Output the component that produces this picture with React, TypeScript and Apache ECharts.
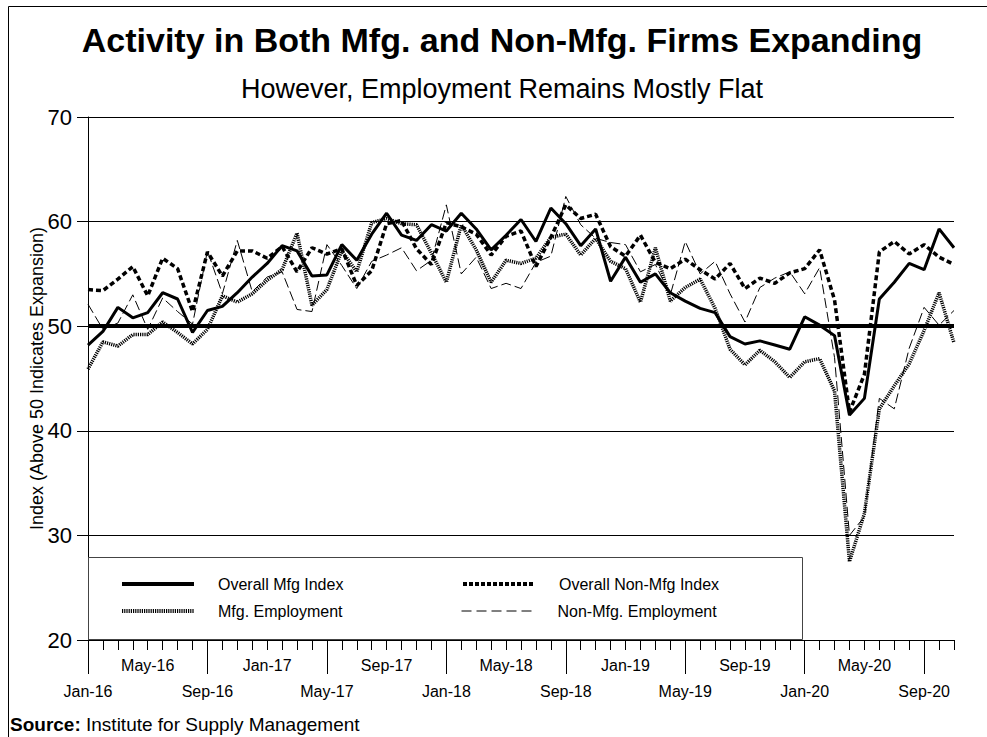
import React, { useEffect, useRef } from "react";
import * as echarts from "echarts";

const FONT = '"Liberation Sans", Arial, Helvetica, sans-serif';

const monthNames = ["Jan", "Feb", "Mar", "Apr", "May", "Jun", "Jul", "Aug", "Sep", "Oct", "Nov", "Dec"];
const years = ["16", "17", "18", "19", "20"];
const lastMonthIndex2020 = 10; // Nov-20

const categories: string[] = [];
years.forEach((y, yi) => {
  monthNames.forEach((m, mi) => {
    if (yi === years.length - 1 && mi > lastMonthIndex2020) return;
    categories.push(`${m}-${y}`);
  });
});

const overallMfgIndex = [
  48.2, 49.5, 51.8, 50.8, 51.3, 53.2, 52.6, 49.4, 51.5, 51.9, 53.2, 54.7,
  56.0, 57.7, 57.2, 54.8, 54.9, 57.8, 56.3, 58.8, 60.8, 58.7, 58.2, 59.7,
  59.1, 60.8, 59.3, 57.3, 58.7, 60.2, 58.1, 61.3, 59.8, 57.7, 59.3, 54.3,
  56.6, 54.2, 55.0, 53.2, 52.4, 51.7, 51.3, 49.0, 48.3, 48.6, 48.2, 47.8,
  50.9, 50.1, 49.1, 41.5, 43.1, 52.6, 54.2, 56.0, 55.4, 59.3, 57.5,
];

const overallNonMfgIndex = [
  53.5, 53.4, 54.5, 55.7, 52.9, 56.5, 55.5, 51.4, 57.1, 54.8, 57.2, 57.2,
  56.5, 57.6, 55.2, 57.5, 56.9, 57.4, 53.9, 55.3, 59.8, 60.1, 57.4, 55.9,
  59.9, 59.5, 58.8, 56.8, 58.6, 59.1, 55.7, 58.5, 61.6, 60.3, 60.7, 57.6,
  56.7, 58.7, 56.1, 55.5, 56.4, 55.4, 54.5, 56.0, 53.6, 54.6, 54.1, 55.1,
  55.5, 57.3, 52.5, 41.8, 45.4, 57.1, 58.1, 56.9, 57.8, 56.6, 55.9,
];

const mfgEmployment = [
  45.9, 48.5, 48.1, 49.2, 49.2, 50.4, 49.4, 48.3, 49.7, 52.9, 52.3, 53.1,
  54.4, 55.4, 58.9, 52.0, 53.5, 57.2, 55.2, 59.9, 60.3, 59.8, 59.7, 57.0,
  54.2, 59.7, 57.3, 54.2, 56.3, 56.0, 56.5, 58.5, 58.8, 56.8, 58.4, 56.2,
  55.5, 52.3, 57.5, 52.4, 53.7, 54.5, 51.7, 47.8, 46.3, 47.7, 46.6, 45.1,
  46.6, 46.9, 43.8, 27.5, 32.1, 42.1, 44.3, 46.4, 49.6, 53.2, 48.4,
];

const nonMfgEmployment = [
  52.1, 49.7, 50.3, 53.0, 49.7, 52.7, 51.4, 50.2, 57.2, 53.1, 58.2, 53.3,
  54.7, 55.2, 51.6, 51.4, 57.8, 55.8, 53.6, 56.2, 56.8, 57.5, 55.3, 56.3,
  61.6, 55.0, 56.6, 53.6, 54.1, 53.6, 56.1, 56.7, 62.4, 59.7, 58.4, 58.0,
  57.8, 55.2, 55.9, 53.0, 58.1, 55.0, 56.2, 53.1, 50.4, 53.7, 54.6, 55.2,
  53.1, 55.6, 47.0, 30.0, 31.8, 43.1, 42.1, 47.9, 51.8, 50.1, 51.5,
];

const yTicks = { min: 20, max: 70, interval: 10 };
const expansionThreshold = 50;

const seriesNames = ["Overall Mfg Index", "Overall Non-Mfg Index", "Mfg. Employment", "Non-Mfg. Employment"];

const lineStyles: any[] = [
  { color: "#000", width: 3, type: "solid" },
  { color: "#000", width: 3.5, type: [5, 3] },
  { color: "#000", width: 3.5, type: [1.2, 1] },
  { color: "#000", width: 1, type: [10, 4] },
];
const legendLineStyles: any[] = [
  { color: "#000", width: 4, type: "solid" },
  { color: "#000", width: 4, type: [4, 2] },
  { color: "#000", width: 4, type: [1.2, 1] },
  { color: "#000", width: 1, type: [10, 5] },
];

export default function App() {
  const ref = useRef<HTMLDivElement>(null);

  useEffect(() => {
    if (!ref.current) return;
    const chart = echarts.init(ref.current, undefined, { renderer: "svg" });

    const legendItem = (idx: number, left: number, top: number) => ({
      orient: "horizontal",
      left,
      top,
      itemWidth: 72,
      itemHeight: 14,
      itemTextGap: 5,
      selectedMode: false,
      z: 10,
      itemStyle: { opacity: 0 },
      lineStyle: legendLineStyles[idx],
      textStyle: { fontSize: 16, color: "#000", fontFamily: FONT, padding: [0, 0, 0, 19] },
      data: [seriesNames[idx]],
    });

    chart.setOption({
      animation: false,
      backgroundColor: "#fff",
      textStyle: { fontFamily: FONT },
      title: [
        {
          text: "Activity in Both Mfg. and Non-Mfg. Firms Expanding",
          left: 497,
          top: 18,
          textAlign: "center",
          textStyle: { fontSize: 34, fontWeight: "bold", color: "#000", fontFamily: FONT },
        },
        {
          text: "However, Employment Remains Mostly Flat",
          left: 497,
          top: 70,
          textAlign: "center",
          textStyle: { fontSize: 27, fontWeight: "normal", color: "#000", fontFamily: FONT },
        },
      ],
      grid: { left: 88, right: 33, top: 117, bottom: 97, containLabel: false },
      legend: [
        legendItem(0, 115, 571),
        legendItem(1, 456, 571),
        legendItem(2, 115, 598),
        legendItem(3, 456, 598),
      ],
      graphic: [
        {
          type: "rect",
          z: -10,
          silent: true,
          shape: { x: 8.5, y: 6.5, width: 1000, height: 800 },
          style: { fill: "none", stroke: "#000", lineWidth: 1 },
        },
        {
          type: "rect",
          z: 5,
          silent: true,
          shape: { x: 88.5, y: 557.5, width: 714, height: 82 },
          style: { fill: "#fff", stroke: "#444", lineWidth: 1 },
        },
        {
          type: "text",
          left: 10,
          top: 715,
          silent: true,
          style: {
            text: "{b|Source:} Institute for Supply Management",
            fontSize: 19,
            fontFamily: FONT,
            fill: "#000",
            rich: { b: { fontWeight: "bold", fontSize: 19, fontFamily: FONT } },
          },
        },
      ],
      xAxis: [
        {
          type: "category",
          data: categories,
          boundaryGap: false,
          axisLine: { show: true, lineStyle: { color: "#000", width: 1 } },
          axisTick: { show: true, interval: 0, length: 10, lineStyle: { color: "#000" } },
          axisLabel: {
            interval: 3,
            margin: 12,
            fontSize: 16,
            color: "#000",
            fontFamily: FONT,
            lineHeight: 26,
            formatter: (v: string, i: number) => (i % 8 === 0 ? "\n" + v : v),
          },
          splitLine: { show: false },
        },
        {
          type: "category",
          data: categories,
          boundaryGap: false,
          position: "bottom",
          axisLine: { show: false },
          axisTick: { show: true, interval: 7, length: 34, lineStyle: { color: "#000" } },
          axisLabel: { show: false },
          splitLine: { show: false },
        },
      ],
      yAxis: {
        type: "value",
        min: yTicks.min,
        max: yTicks.max,
        interval: yTicks.interval,
        name: "Index (Above 50 Indicates Expansion)",
        nameLocation: "middle",
        nameGap: 42,
        nameRotate: 90,
        nameMoveOverlap: false,
        nameTextStyle: { fontSize: 18, color: "#000", fontFamily: FONT },
        axisLine: { show: true, lineStyle: { color: "#000", width: 1 } },
        axisTick: { show: true, length: 11, lineStyle: { color: "#000" } },
        axisLabel: { fontSize: 22, color: "#000", margin: 16, fontFamily: FONT },
        splitLine: { show: true, lineStyle: { color: "#000", width: 1 } },
      },
      series: [
        {
          name: seriesNames[0],
          type: "line",
          data: overallMfgIndex,
          symbol: "none",
          z: 4,
          lineStyle: lineStyles[0],
          itemStyle: { color: "#000" },
          markLine: {
            silent: true,
            symbol: "none",
            label: { show: false },
            lineStyle: { color: "#000", width: 4, type: "solid" },
            data: [{ yAxis: expansionThreshold }],
          },
        },
        {
          name: seriesNames[1],
          type: "line",
          data: overallNonMfgIndex,
          symbol: "none",
          z: 3,
          lineStyle: lineStyles[1],
          itemStyle: { color: "#000" },
        },
        {
          name: seriesNames[2],
          type: "line",
          data: mfgEmployment,
          symbol: "none",
          z: 2,
          lineStyle: lineStyles[2],
          itemStyle: { color: "#000" },
        },
        {
          name: seriesNames[3],
          type: "line",
          data: nonMfgEmployment,
          symbol: "none",
          z: 2,
          lineStyle: lineStyles[3],
          itemStyle: { color: "#000" },
        },
      ],
    });

    return () => chart.dispose();
  }, []);

  return (
    <div
      ref={ref}
      style={{ position: "fixed", left: 0, top: 0, width: 987, height: 737, background: "#fff" }}
    />
  );
}
